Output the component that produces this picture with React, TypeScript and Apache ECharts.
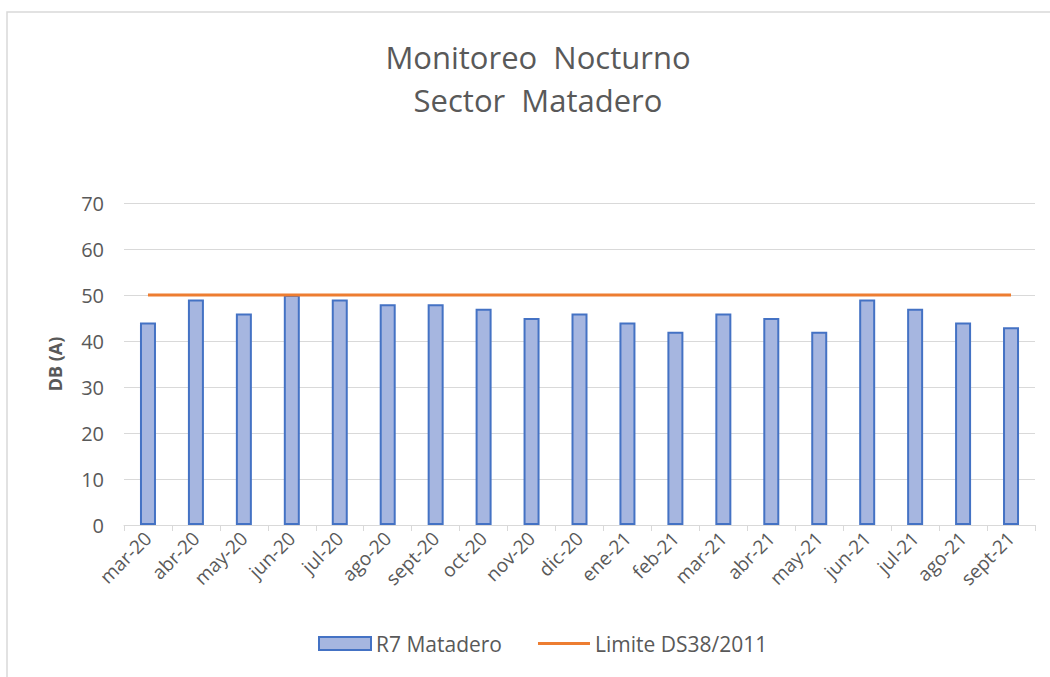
import React, { useEffect, useRef } from "react";
import * as echarts from "echarts";

const categories = ["mar-20","abr-20","may-20","jun-20","jul-20","ago-20","sept-20","oct-20","nov-20","dic-20","ene-21","feb-21","mar-21","abr-21","may-21","jun-21","jul-21","ago-21","sept-21"];
const r7Matadero = [44,49,46,50,49,48,48,47,45,46,44,42,46,45,42,49,47,44,43];
const limite = [50,50,50,50,50,50,50,50,50,50,50,50,50,50,50,50,50,50,50];
const titleLines = ["Monitoreo  Nocturno", "Sector  Matadero"];

const FONT = "'Open Sans', 'Noto Sans', sans-serif";
const GRAY = "#595959";

export default function App() {
  const ref = useRef<HTMLDivElement>(null);
  useEffect(() => {
    const chart = echarts.init(ref.current!, null, { renderer: "svg" });
    chart.setOption({
      animation: false,
      backgroundColor: "#ffffff",
      textStyle: { fontFamily: FONT },
      graphic: [
        { type: "rect", shape: { x: 7, y: 12, width: 1100, height: 700 }, style: { fill: "none", stroke: "#d9d9d9", lineWidth: 1.5 }, silent: true, z: -1 },
      ],
      title: {
        text: titleLines.join("\n"),
        left: 533,
        textAlign: "center",
        top: 30,
        textStyle: { fontFamily: FONT, fontSize: 31, fontWeight: "normal", color: GRAY, lineHeight: 43 },
      },
      legend: {
        bottom: 18,
        left: 313,
        itemGap: 36,
        itemWidth: 52,
        itemHeight: 13,
        textStyle: { fontFamily: FONT, fontSize: 21, color: GRAY },
        data: [
          { name: "R7 Matadero", icon: "rect" },
          { name: "Limite DS38/2011", icon: "path://M0,0 L52,0 L52,3 L0,3 Z" },
        ],
      },
      grid: { left: 124, right: 15, top: 203, bottom: 152, containLabel: false },
      xAxis: {
        type: "category",
        data: categories,
        boundaryGap: true,
        axisLine: { lineStyle: { color: "#d9d9d9", width: 1 } },
        axisTick: { show: true, length: 6, lineStyle: { color: "#d9d9d9" } },
        axisLabel: { rotate: 45, color: GRAY, fontSize: 19, fontFamily: FONT, margin: 10, interval: 0 },
      },
      yAxis: {
        type: "value",
        min: 0,
        max: 70,
        interval: 10,
        name: "DB (A)",
        nameLocation: "middle",
        nameGap: 60,
        nameTextStyle: { color: GRAY, fontSize: 18, fontWeight: "bold", fontFamily: FONT },
        axisLine: { show: false },
        axisTick: { show: false },
        axisLabel: { color: GRAY, fontSize: 20, fontFamily: FONT, margin: 20 },
        splitLine: { lineStyle: { color: "#d9d9d9", width: 1 } },
      },
      series: [
        {
          name: "R7 Matadero",
          type: "bar",
          data: r7Matadero,
          barWidth: 16,
          itemStyle: { color: "#a6b6e0", borderColor: "#4472c4", borderWidth: 2 },
        },
        {
          name: "Limite DS38/2011",
          type: "line",
          data: limite,
          symbol: "none",
          lineStyle: { color: "#ed7d31", width: 3 },
          itemStyle: { color: "#ed7d31" },
          z: 3,
        },
      ],
    });
    return () => chart.dispose();
  }, []);
  return <div ref={ref} style={{ position: "fixed", left: 0, top: 0, width: 1050, height: 677 }} />;
}
